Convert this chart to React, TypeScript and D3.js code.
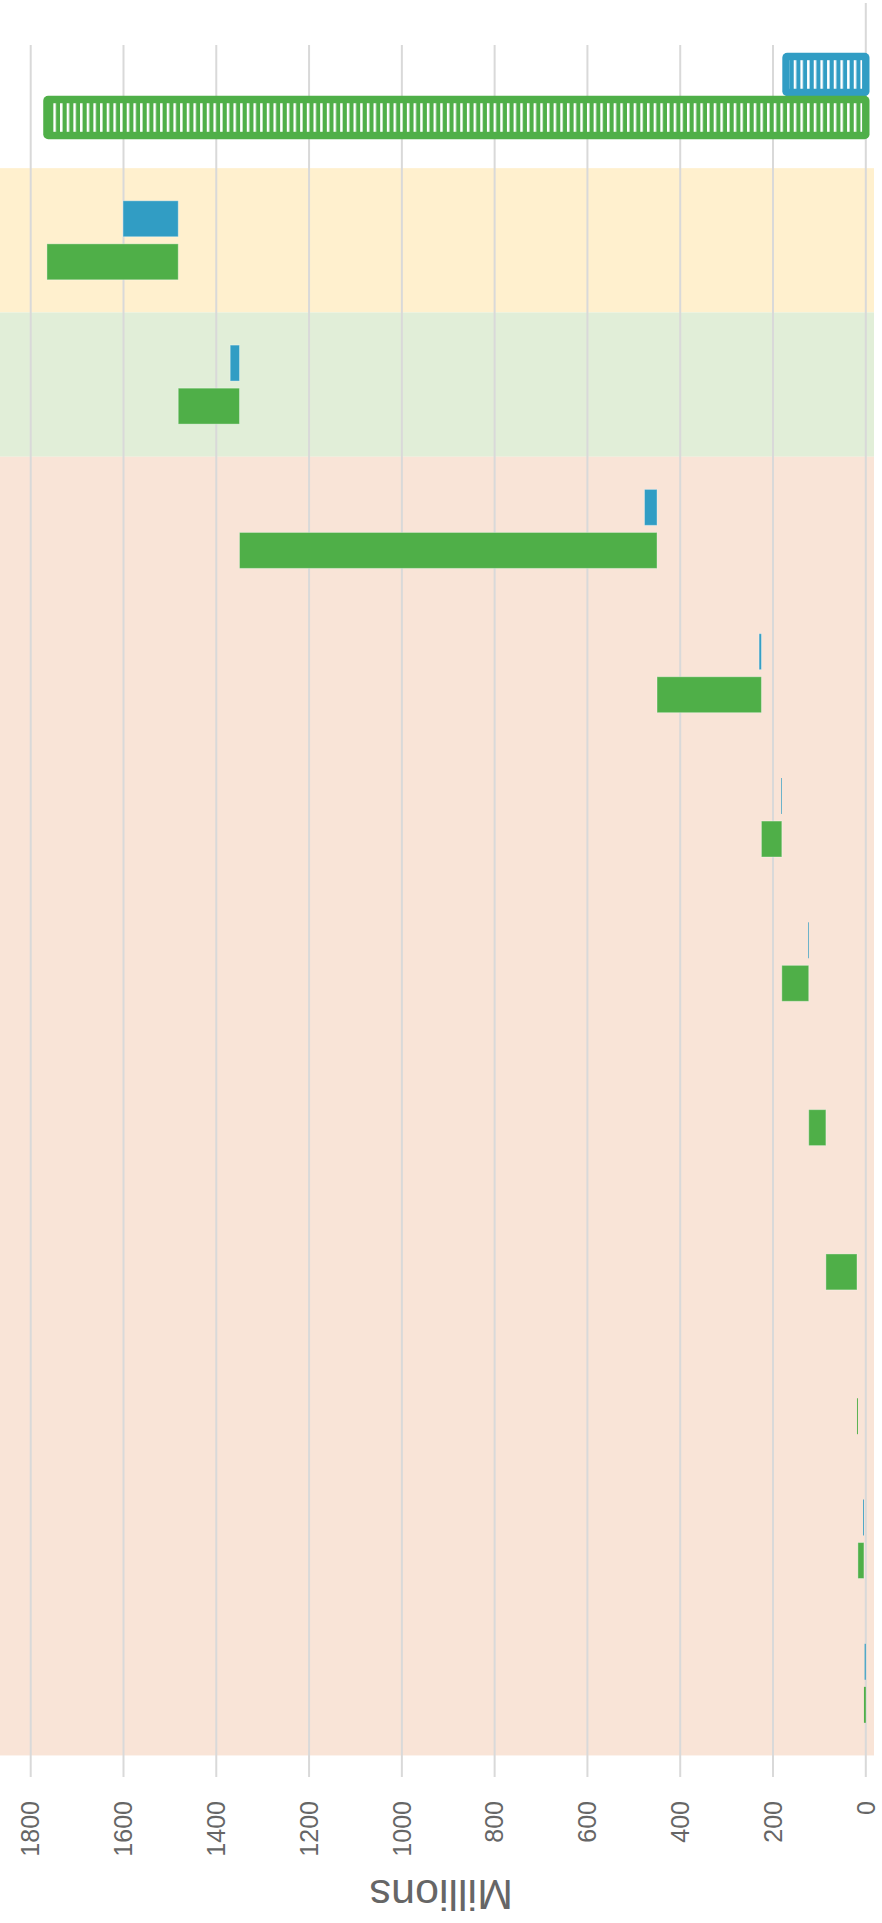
import React from "react";
import * as d3 from "d3";

// ---- data ----
const categories = ["Total", "C2", "C3", "C4", "C5", "C6", "C7", "C8", "C9", "C10", "C11", "C12"];
// green series: [low, high] in millions
const greenLow = [0, 1482, 1350, 450, 225, 181, 123, 86, 19, 17, 4, 0];
const greenHigh = [1765, 1765, 1482, 1350, 450, 225, 181, 123, 86, 19, 17, 4];
// blue series: [low, high] in millions
const blueLow = [0, 1482, 1350, 450, 225, 181, 123, 86, 19, 17, 4, 0];
const blueHigh = [172, 1601, 1370, 477, 230, 182.5, 124.5, 86, 19, 17, 5.8, 2.5];
const isTotal = [true, false, false, false, false, false, false, false, false, false, false, false];
const ticks = [0, 200, 400, 600, 800, 1000, 1200, 1400, 1600, 1800];
const axisTitle = "Millions";
const bands = [
  { from: "C2", to: "C2", color: "#fff0ce" },
  { from: "C3", to: "C3", color: "#e1eed8" },
  { from: "C4", to: "C12", color: "#f9e4d7" },
];

const BLUE = "#319dc4";
const GREEN = "#4faf48";
const W = 882;
const H = 1923;

export default function App() {
  const x = d3.scaleLinear().domain([0, 1800]).range([865.8, 30.7]);
  const y = d3.scaleBand<string>().domain(categories).range([23.85, 1755.45]).padding(0);
  const inner = d3
    .scaleBand<string>()
    .domain(["blue", "green"])
    .range([-39.5, 39.5])
    .paddingInner(0.165)
    .paddingOuter(0);
  const bw = inner.bandwidth();
  const center = (c: string) => (y(c) as number) + y.bandwidth() / 2;
  const font = "'Liberation Sans', Arial, Helvetica, sans-serif";

  const bars: React.ReactNode[] = [];
  categories.forEach((c, i) => {
    const series = [
      { key: "blue", lo: blueLow[i], hi: blueHigh[i], color: BLUE },
      { key: "green", lo: greenLow[i], hi: greenHigh[i], color: GREEN },
    ];
    series.forEach((s) => {
      const x1 = x(s.hi);
      const x2 = x(s.lo);
      const w = x2 - x1;
      if (w <= 0.01) return;
      const yy = center(c) + (inner(s.key) as number);
      if (isTotal[i]) {
        const sw = 7.4;
        bars.push(
          <g key={c + s.key}>
            <rect
              x={x1 - sw / 2}
              y={yy - sw / 2}
              width={w + sw}
              height={bw + sw}
              rx={5}
              fill={s.color}
            />
            <rect
              x={x1 + sw / 2}
              y={yy + sw / 2}
              width={w - sw}
              height={bw - sw}
              fill={`url(#stripes)`}
            />
          </g>
        );
      } else {
        bars.push(
          <rect
            key={c + s.key}
            x={x1}
            y={yy}
            width={w}
            height={bw}
            fill={s.color}
            stroke="#ffffff"
            strokeOpacity={0.35}
            strokeWidth={w > 2 ? 1 : 0}
          />
        );
      }
    });
  });

  return (
    <svg
      width={W}
      height={H}
      style={{ position: "absolute", left: 0, top: 0, display: "block", background: "#ffffff" }}
    >
      <defs>
        <pattern id="stripes" patternUnits="userSpaceOnUse" width={6.67} height={20} x={0} y={0}>
          <rect x={0} y={0} width={2.5} height={20} fill="#ffffff" />
        </pattern>
      </defs>
      {/* plot bands */}
      {bands.map((b, i) => {
        const y0 = y(b.from) as number;
        const y1 = (y(b.to) as number) + y.bandwidth();
        return <rect key={i} x={0} y={y0} width={874} height={y1 - y0} fill={b.color} />;
      })}
      {/* grid lines */}
      {ticks.map((t) => (
        <line
          key={t}
          x1={x(t)}
          x2={x(t)}
          y1={t === 0 ? 3 : 45}
          y2={1777}
          stroke="#d9d9d9"
          strokeWidth={2}
        />
      ))}
      {bars}
      {/* tick labels */}
      {ticks.map((t) => (
        <text
          key={"l" + t}
          transform={`translate(${x(t)},1801) rotate(-90)`}
          textAnchor="end"
          dy="0.35em"
          fontFamily={font}
          fontSize={25}
          fill="#666666"
        >
          {t}
        </text>
      ))}
      <text
        transform={`translate(${(x(0) + x(1800)) / 2 - 7},1880) rotate(180)`}
        textAnchor="middle"
        fontFamily={font}
        fontSize={43}
        fill="#666666"
      >
        {axisTitle}
      </text>
    </svg>
  );
}
